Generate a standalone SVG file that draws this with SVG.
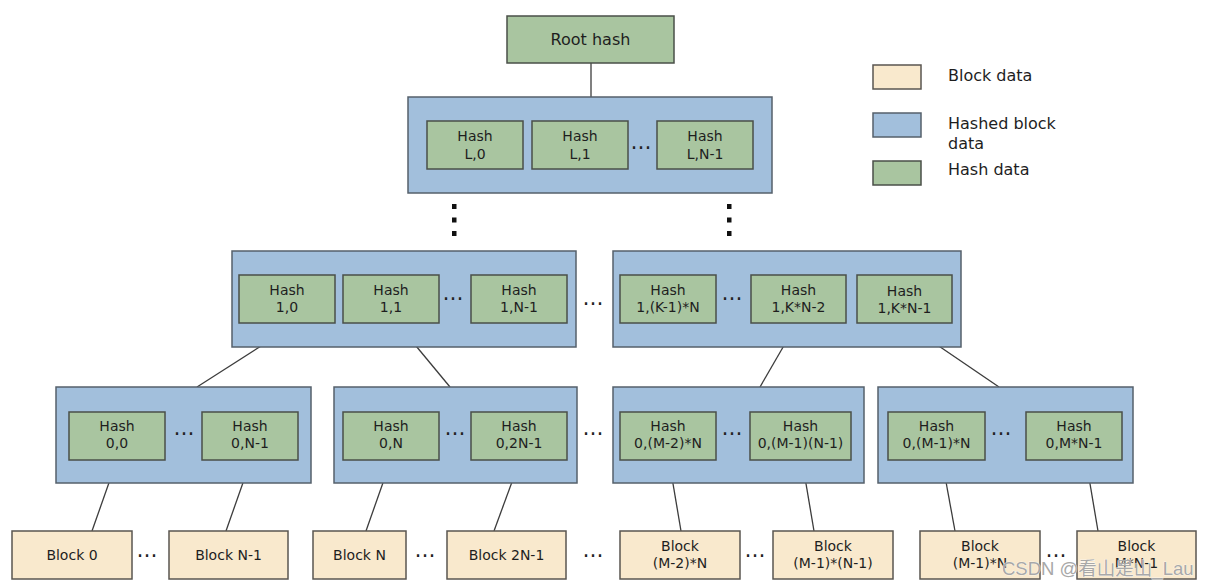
<svg xmlns="http://www.w3.org/2000/svg" width="1210" height="588" viewBox="0 0 1210 588">
<style>
.bg{fill:#ffffff}
.blue{fill:#a2bfdc;stroke:#55606b;stroke-width:1.5}
.green{fill:#a9c5a0;stroke:#4a4f48;stroke-width:1.5}
.beige{fill:#f9e9cd;stroke:#5a5650;stroke-width:1.5}
text{font-family:"DejaVu Sans","Liberation Sans",sans-serif;fill:#1e1e1e}
.t{font-size:14px;text-anchor:middle}
.r{font-size:16px;text-anchor:middle}
.lg{font-size:16px}
.dots{font-size:21px;text-anchor:middle;fill:#222}
.vd{fill:#111}
.conn line{stroke:#3c3c3c;stroke-width:1.3}
.wm{font-family:"Liberation Sans","Noto Sans CJK SC",sans-serif;font-size:18.5px;fill:#a8a8a8;stroke:#ffffff;stroke-width:0.6;paint-order:stroke}
</style>
<rect class="bg" x="0" y="0" width="1210" height="588"/>

<g id="connectors" class="conn">
<line x1="591" y1="63" x2="591" y2="97"/>
<line x1="297" y1="323" x2="197" y2="387"/>
<line x1="397" y1="323" x2="450" y2="387"/>
<line x1="797" y1="323" x2="760" y2="387"/>
<line x1="905" y1="323" x2="999" y2="387"/>
<line x1="117" y1="460" x2="92" y2="531"/>
<line x1="251" y1="460" x2="226" y2="531"/>
<line x1="391" y1="460" x2="366" y2="531"/>
<line x1="520" y1="460" x2="494" y2="531"/>
<line x1="669" y1="460" x2="681" y2="531"/>
<line x1="802" y1="460" x2="814" y2="531"/>
<line x1="942" y1="460" x2="955" y2="531"/>
<line x1="1086" y1="460" x2="1098" y2="531"/>
</g>

<g id="root">
<rect class="green" x="507" y="16" width="167" height="47"/>
<text class="r" x="590.5" y="45">Root hash</text>
</g>

<g id="levelL">
<rect class="blue" x="408" y="97" width="364" height="96"/>
<g id="hashL0"><rect class="green" x="427" y="121" width="96" height="48"/><text class="t" x="475" y="141">Hash</text><text class="t" x="475" y="159">L,0</text></g>
<g id="hashL1"><rect class="green" x="532" y="121" width="96" height="48"/><text class="t" x="580" y="141">Hash</text><text class="t" x="580" y="159">L,1</text></g>
<text class="dots" x="641" y="149">…</text>
<g id="hashLN1"><rect class="green" x="657" y="121" width="96" height="48"/><text class="t" x="705" y="141">Hash</text><text class="t" x="705" y="159">L,N-1</text></g>
</g>

<g id="vdots">
<rect class="vd" x="452" y="204" width="4.5" height="5"/>
<rect class="vd" x="452" y="217.5" width="4.5" height="5"/>
<rect class="vd" x="452" y="231" width="4.5" height="5"/>
<rect class="vd" x="727" y="204" width="4.5" height="5"/>
<rect class="vd" x="727" y="217.5" width="4.5" height="5"/>
<rect class="vd" x="727" y="231" width="4.5" height="5"/>
</g>

<g id="level1a">
<rect class="blue" x="232" y="251" width="344" height="96"/>
<g id="hash10"><rect class="green" x="239" y="275" width="96" height="48"/><text class="t" x="287" y="295">Hash</text><text class="t" x="287" y="312">1,0</text></g>
<g id="hash11"><rect class="green" x="343" y="275" width="96" height="48"/><text class="t" x="391" y="295">Hash</text><text class="t" x="391" y="312">1,1</text></g>
<text class="dots" x="453" y="300">…</text>
<g id="hash1N1"><rect class="green" x="471" y="275" width="96" height="48"/><text class="t" x="519" y="295">Hash</text><text class="t" x="519" y="312">1,N-1</text></g>
</g>
<text class="dots" x="593" y="305">…</text>

<g id="level1b">
<rect class="blue" x="613" y="251" width="348" height="96"/>
<g id="hash1K1N"><rect class="green" x="620" y="275" width="96" height="48"/><text class="t" x="668" y="295">Hash</text><text class="t" x="668" y="312">1,(K-1)*N</text></g>
<text class="dots" x="732" y="300">…</text>
<g id="hash1KN2"><rect class="green" x="751" y="275" width="95" height="48"/><text class="t" x="798.5" y="295">Hash</text><text class="t" x="798.5" y="312">1,K*N-2</text></g>
<g id="hash1KN1"><rect class="green" x="857" y="275" width="95" height="48"/><text class="t" x="904.5" y="296">Hash</text><text class="t" x="904.5" y="313">1,K*N-1</text></g>
</g>

<g id="level0a">
<rect class="blue" x="56" y="387" width="255" height="96"/>
<g id="hash00"><rect class="green" x="69" y="412" width="96" height="48"/><text class="t" x="117" y="431">Hash</text><text class="t" x="117" y="448">0,0</text></g>
<text class="dots" x="184" y="435">…</text>
<g id="hash0N1"><rect class="green" x="202" y="412" width="96" height="48"/><text class="t" x="250" y="431">Hash</text><text class="t" x="250" y="448">0,N-1</text></g>
</g>

<g id="level0b">
<rect class="blue" x="334" y="387" width="243" height="96"/>
<g id="hash0N"><rect class="green" x="343" y="412" width="96" height="48"/><text class="t" x="391" y="431">Hash</text><text class="t" x="391" y="448">0,N</text></g>
<text class="dots" x="455" y="435">…</text>
<g id="hash02N1"><rect class="green" x="471" y="412" width="96" height="48"/><text class="t" x="519" y="431">Hash</text><text class="t" x="519" y="448">0,2N-1</text></g>
</g>
<text class="dots" x="593" y="435">…</text>

<g id="level0c">
<rect class="blue" x="613" y="387" width="251" height="96"/>
<g id="hash0M2N"><rect class="green" x="620" y="412" width="96" height="48"/><text class="t" x="668" y="431">Hash</text><text class="t" x="668" y="448">0,(M-2)*N</text></g>
<text class="dots" x="732" y="435">…</text>
<g id="hash0M1N1"><rect class="green" x="750" y="412" width="101" height="48"/><text class="t" x="800.5" y="431">Hash</text><text class="t" x="800.5" y="448">0,(M-1)(N-1)</text></g>
</g>

<g id="level0d">
<rect class="blue" x="878" y="387" width="255" height="96"/>
<g id="hash0M1N"><rect class="green" x="888" y="412" width="97" height="48"/><text class="t" x="936.5" y="431">Hash</text><text class="t" x="936.5" y="448">0,(M-1)*N</text></g>
<text class="dots" x="1001" y="435">…</text>
<g id="hash0MN1"><rect class="green" x="1026" y="412" width="96" height="48"/><text class="t" x="1074" y="431">Hash</text><text class="t" x="1074" y="448">0,M*N-1</text></g>
</g>

<g id="block0"><rect class="beige" x="12" y="531" width="120" height="48"/><text class="t" x="72" y="560">Block 0</text></g>
<text class="dots" x="147" y="557">…</text>
<g id="blockN1"><rect class="beige" x="169" y="531" width="119" height="48"/><text class="t" x="228.5" y="560">Block N-1</text></g>
<g id="blockN"><rect class="beige" x="313" y="531" width="93" height="48"/><text class="t" x="359.5" y="560">Block N</text></g>
<text class="dots" x="425" y="557">…</text>
<g id="block2N1"><rect class="beige" x="447" y="531" width="119" height="48"/><text class="t" x="506.5" y="560">Block 2N-1</text></g>
<text class="dots" x="593" y="557">…</text>
<g id="blockM2N"><rect class="beige" x="620" y="531" width="120" height="48"/><text class="t" x="680" y="551">Block</text><text class="t" x="680" y="568">(M-2)*N</text></g>
<text class="dots" x="755" y="557">…</text>
<g id="blockM1N1"><rect class="beige" x="773" y="531" width="120" height="48"/><text class="t" x="833" y="551">Block</text><text class="t" x="833" y="568">(M-1)*(N-1)</text></g>
<g id="blockM1N"><rect class="beige" x="920" y="531" width="120" height="48"/><text class="t" x="980" y="551">Block</text><text class="t" x="980" y="568">(M-1)*N</text></g>
<text class="dots" x="1056" y="557">…</text>
<g id="blockMN1"><rect class="beige" x="1077" y="531" width="119" height="48"/><text class="t" x="1136.5" y="551">Block</text><text class="t" x="1136.5" y="568">M*N-1</text></g>

<g id="legend">
<rect class="beige" x="873" y="65" width="48" height="24"/>
<text class="lg" x="948" y="81">Block data</text>
<rect class="blue" x="873" y="113" width="48" height="24"/>
<text class="lg" x="948" y="129">Hashed block</text>
<text class="lg" x="948" y="149">data</text>
<rect class="green" x="873" y="161" width="48" height="24"/>
<text class="lg" x="948" y="175">Hash data</text>
</g>

<text class="wm" x="1002" y="575">CSDN @看山是山_Lau</text>
</svg>
